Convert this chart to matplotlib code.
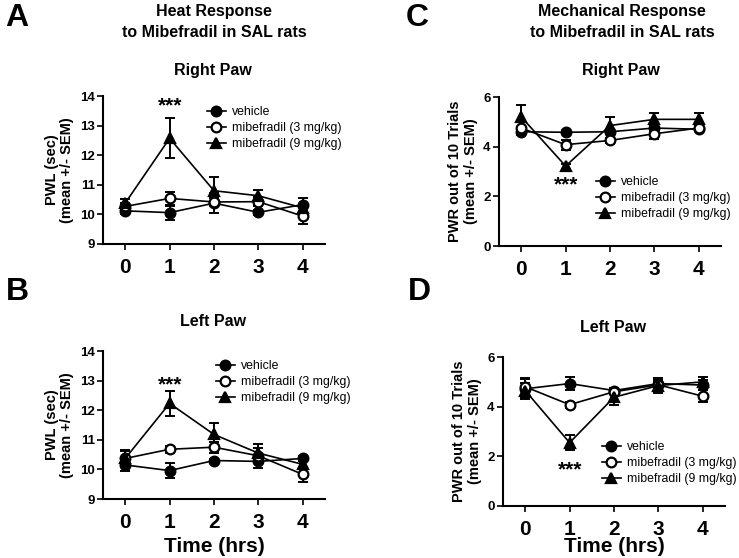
import numpy as np
import matplotlib.pyplot as plt

plt.rcParams['font.family'] = ['Liberation Sans', 'DejaVu Sans']

# ---- data ----
time = [0, 1, 2, 3, 4]
labels = ['vehicle', 'mibefradil (3 mg/kg)', 'mibefradil (9 mg/kg)']

# A: heat, right paw (PWL, sec)
heatR_veh = [10.12, 10.06, 10.38, 10.07, 10.33]
heatR_veh_sem = [0.10, 0.24, 0.33, 0.08, 0.22]
heatR_m3 = [10.27, 10.54, 10.42, 10.43, 9.94]
heatR_m3_sem = [0.10, 0.22, 0.12, 0.15, 0.28]
heatR_m9 = [10.38, 12.57, 10.80, 10.63, 10.22]
heatR_m9_sem = [0.14, 0.68, 0.45, 0.21, 0.12]

# B: heat, left paw
heatL_veh = [10.15, 9.96, 10.30, 10.27, 10.37]
heatL_veh_sem = [0.20, 0.25, 0.06, 0.22, 0.08]
heatL_m3 = [10.37, 10.68, 10.75, 10.46, 9.83]
heatL_m3_sem = [0.30, 0.12, 0.18, 0.25, 0.25]
heatL_m9 = [10.37, 12.23, 11.18, 10.55, 10.17]
heatL_m9_sem = [0.25, 0.43, 0.40, 0.30, 0.10]

# C: mechanical, right paw (PWR out of 10)
mechR_veh = [4.60, 4.58, 4.60, 4.75, 4.70]
mechR_veh_sem = [0.15, 0.08, 0.10, 0.15, 0.08]
mechR_m3 = [4.75, 4.08, 4.25, 4.52, 4.75]
mechR_m3_sem = [0.30, 0.20, 0.10, 0.20, 0.10]
mechR_m9 = [5.20, 3.22, 4.85, 5.10, 5.10]
mechR_m9_sem = [0.48, 0.10, 0.33, 0.24, 0.24]

# D: mechanical, left paw
mechL_veh = [4.72, 4.93, 4.65, 4.93, 4.87]
mechL_veh_sem = [0.40, 0.27, 0.12, 0.15, 0.20]
mechL_m3 = [4.80, 4.08, 4.60, 4.88, 4.42]
mechL_m3_sem = [0.35, 0.12, 0.10, 0.12, 0.25]
mechL_m9 = [4.65, 2.55, 4.38, 4.85, 5.00]
mechL_m9_sem = [0.30, 0.30, 0.30, 0.30, 0.20]

W, H = 739, 558
fig = plt.figure(figsize=(W / 100, H / 100), dpi=100)


def px(x, y):
    return x / W, 1 - y / H


def panel(box, series, ylim, yticks, ylabel, star_y, leg_xy, xlabel=None, xlpad=0):
    l, t, r, b = box
    ax = fig.add_axes([l / W, 1 - b / H, (r - l) / W, (b - t) / H])
    styles = [('o', 'k'), ('o', 'white'), ('^', 'k')]
    for (mean, err), (mk, fc) in zip(series, styles):
        ax.errorbar(time, mean, yerr=err, fmt='none', ecolor='k',
                    elinewidth=1.4, capsize=3.5, capthick=1.4, zorder=2)
    handles = []
    for (mean, err), (mk, fc), lab in zip(series, styles, labels):
        ln, = ax.plot(time, mean, color='k', lw=1.2, marker=mk, ms=7.5 if mk == '^' else 7,
                      mfc=fc, mec='k', mew=1.6, label=lab, zorder=3)
        handles.append(ln)
    ax.set_xlim(-0.5, 4.5)
    ax.set_ylim(*ylim)
    ax.set_xticks(time)
    ax.set_yticks(yticks)
    for s in ['top', 'right']:
        ax.spines[s].set_visible(False)
    for s in ['left', 'bottom']:
        ax.spines[s].set_linewidth(1.5)
    ax.tick_params(axis='x', direction='out', length=4, width=1.2, pad=6, labelsize=15)
    ax.tick_params(axis='y', direction='out', length=4, width=1.2, pad=2, labelsize=9.5)
    plt.setp(ax.get_xticklabels(), fontweight='bold')
    plt.setp(ax.get_yticklabels(), fontweight='bold')
    ax.set_ylabel(ylabel, fontsize=10.5, fontweight='bold', linespacing=1.15, labelpad=4)
    if xlabel:
        ax.set_xlabel(xlabel, fontsize=15, fontweight='bold', labelpad=xlpad)
    ax.text(1, star_y, '***', ha='center', va='center', fontsize=15, fontweight='bold')
    ax.legend(handles=handles, loc='upper left', bbox_to_anchor=px(*leg_xy),
              bbox_transform=fig.transFigure, frameon=False, fontsize=8.8,
              handlelength=1.55, handletextpad=0.5, labelspacing=0.32,
              borderpad=0, borderaxespad=0)
    return ax


pwl = 'PWL (sec)\n(mean +/- SEM)'
pwr = 'PWR out of 10 Trials\n(mean +/- SEM)'

panel((103, 96, 325, 244),
      [(heatR_veh, heatR_veh_sem), (heatR_m3, heatR_m3_sem), (heatR_m9, heatR_m9_sem)],
      (9, 14), range(9, 15), pwl, 13.68, (207, 106))
panel((103, 351, 325, 499),
      [(heatL_veh, heatL_veh_sem), (heatL_m3, heatL_m3_sem), (heatL_m9, heatL_m9_sem)],
      (9, 14), range(9, 15), pwl, 12.85, (216, 360), xlabel='Time (hrs)', xlpad=4)
panel((499, 97, 721, 246),
      [(mechR_veh, mechR_veh_sem), (mechR_m3, mechR_m3_sem), (mechR_m9, mechR_m9_sem)],
      (0, 6), [0, 2, 4, 6], pwr, 2.45, (596, 176))
panel((503, 357, 725, 506),
      [(mechL_veh, mechL_veh_sem), (mechL_m3, mechL_m3_sem), (mechL_m9, mechL_m9_sem)],
      (0, 6), [0, 2, 4, 6], pwr, 1.45, (602, 441), xlabel='Time (hrs)', xlpad=-1)

# panel letters and headings
for letter, x, y in [('A', 17, 18), ('B', 17, 292), ('C', 417, 18), ('D', 419, 292)]:
    fig.text(*px(x, y), letter, ha='center', va='center', fontsize=23, fontweight='bold')

fig.text(*px(214, 22), 'Heat Response\nto Mibefradil in SAL rats', ha='center', va='center',
         fontsize=11.5, fontweight='bold', linespacing=1.45)
fig.text(*px(622, 22), 'Mechanical Response\nto Mibefradil in SAL rats', ha='center', va='center',
         fontsize=11.5, fontweight='bold', linespacing=1.45)
fig.text(*px(213, 70), 'Right Paw', ha='center', va='center', fontsize=11.5, fontweight='bold')
fig.text(*px(621, 70), 'Right Paw', ha='center', va='center', fontsize=11.5, fontweight='bold')
fig.text(*px(213, 322), 'Left Paw', ha='center', va='center', fontsize=11.5, fontweight='bold')
fig.text(*px(613, 327), 'Left Paw', ha='center', va='center', fontsize=11.5, fontweight='bold')

plt.savefig('out.png', dpi=100)
